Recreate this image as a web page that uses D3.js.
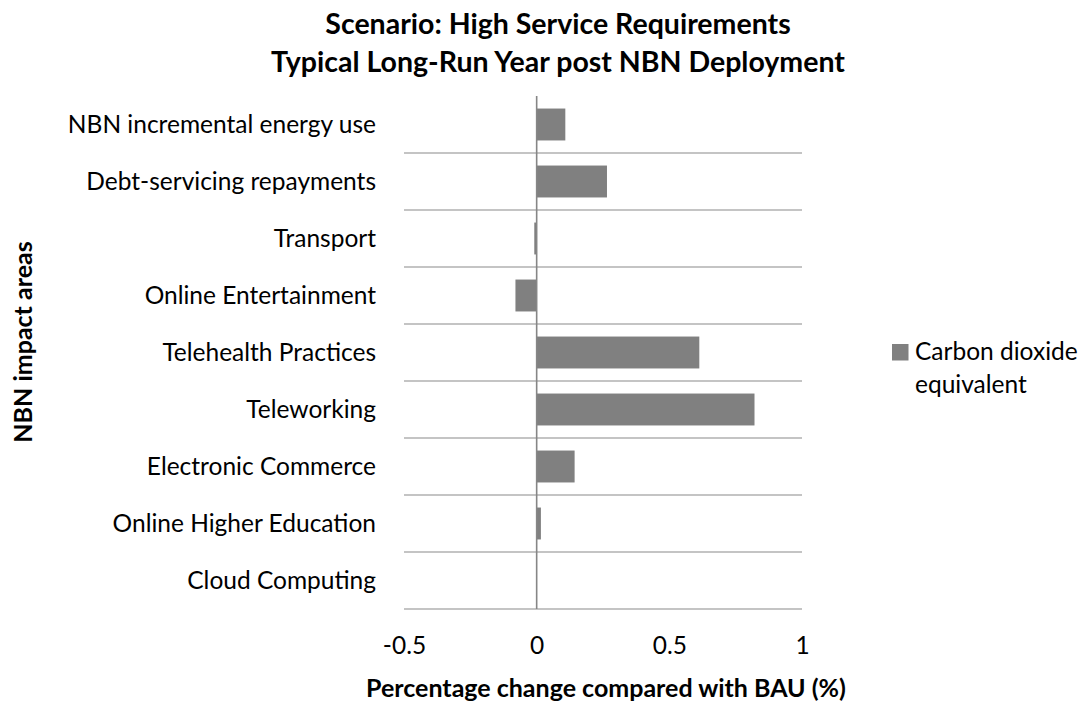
<!DOCTYPE html>
<html>
<head>
<meta charset="utf-8">
<script src="https://cdn.jsdelivr.net/npm/d3@7"></script>
<style>
  body { margin: 0; background: #fff; }
  svg { display: block; }
  text { font-family: Lato, "Open Sans", sans-serif; fill: #000; }
</style>
</head>
<body>
<svg id="chart" width="1083" height="704"></svg>
<script>
// Impact areas, top to bottom
const categories = [
  "NBN incremental energy use",
  "Debt-servicing repayments",
  "Transport",
  "Online Entertainment",
  "Telehealth Practices",
  "Teleworking",
  "Electronic Commerce",
  "Online Higher Education",
  "Cloud Computing"
];
// Percentage change compared with BAU (%), CO2-e
const co2eValues = [0.108, 0.265, -0.009, -0.080, 0.613, 0.821, 0.143, 0.016, 0.0];
const xTicks = [-0.5, 0, 0.5, 1];
const titleLines = ["Scenario: High Service Requirements", "Typical Long-Run Year post NBN Deployment"];
const legendLines = ["Carbon dioxide", "equivalent"];
const xTitle = "Percentage change compared with BAU (%)";
const yTitle = "NBN impact areas";

const svg = d3.select("#chart");
const plot = { left: 404, right: 802, top: 96, bottom: 609 };
const barColor = "#808080";
const lineColor = "#8a8a8a";
const labelSize = 24.5;

const x = d3.scaleLinear().domain([-0.5, 1]).range([plot.left, plot.right]);
const gap = 0.44;
const y = d3.scaleBand().domain(categories).range([plot.top, plot.bottom])
  .paddingInner(gap).paddingOuter(gap / 2);

// horizontal gridlines at category boundaries (below each category)
const boundaries = categories.map(c => y(c) + y.bandwidth() + y.step() * gap / 2);
svg.append("g").selectAll("line").data(boundaries).join("line")
  .attr("x1", plot.left).attr("x2", plot.right)
  .attr("y1", d => d).attr("y2", d => d)
  .attr("stroke", lineColor).attr("stroke-width", 1.2);

// bars
svg.append("g").selectAll("rect").data(categories).join("rect")
  .attr("x", (c, i) => x(Math.min(0, co2eValues[i])))
  .attr("width", (c, i) => Math.abs(x(co2eValues[i]) - x(0)))
  .attr("y", c => y(c))
  .attr("height", y.bandwidth())
  .attr("fill", barColor);

// vertical category axis at zero
svg.append("line")
  .attr("x1", x(0)).attr("x2", x(0))
  .attr("y1", plot.top).attr("y2", plot.bottom)
  .attr("stroke", "#868686").attr("stroke-width", 1.6);

// category labels
svg.append("g").selectAll("text").data(categories).join("text")
  .attr("x", 376)
  .attr("y", c => y(c) + y.bandwidth() / 2)
  .attr("dy", "0.35em")
  .attr("text-anchor", "end")
  .attr("font-size", labelSize)
  .text(c => c);

// value axis tick labels
const xAxis = d3.axisBottom(x).tickValues(xTicks).tickSize(0).tickPadding(0)
  .tickFormat(d => String(d));
const gx = svg.append("g").attr("transform", `translate(0,${plot.bottom})`).call(xAxis);
gx.select(".domain").remove();
gx.selectAll("text")
  .attr("y", 36).attr("dy", "0.35em")
  .attr("font-size", labelSize)
  .attr("font-family", "Lato, 'Open Sans', sans-serif")
  .attr("fill", "#000");

// titles
svg.append("text")
  .attr("text-anchor", "middle")
  .attr("font-size", 28.5).attr("font-weight", "bold")
  .selectAll("tspan").data(titleLines).join("tspan")
  .attr("x", 558)
  .attr("y", (d, i) => 34 + i * 37.5)
  .text(d => d);

svg.append("text")
  .attr("x", 606).attr("y", 697)
  .attr("text-anchor", "middle")
  .attr("font-size", 25).attr("font-weight", "bold")
  .text(xTitle);

svg.append("text")
  .attr("transform", "translate(32,342) rotate(-90)")
  .attr("text-anchor", "middle")
  .attr("font-size", 25).attr("font-weight", "bold")
  .text(yTitle);

// legend
const lg = svg.append("g");
lg.append("rect").attr("x", 892).attr("y", 344).attr("width", 16.5).attr("height", 16.5)
  .attr("fill", barColor);
lg.append("text").attr("font-size", labelSize)
  .selectAll("tspan").data(legendLines).join("tspan")
  .attr("x", 915)
  .attr("y", (d, i) => 360 + i * 33)
  .text(d => d);
</script>
</body>
</html>
